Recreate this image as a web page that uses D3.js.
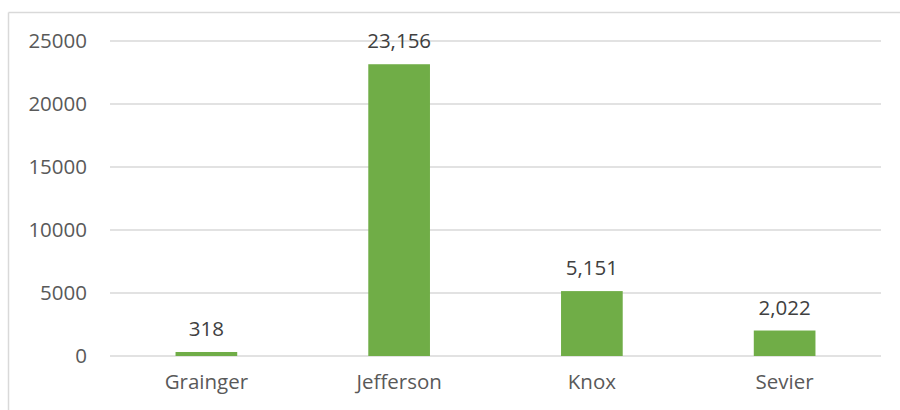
<!DOCTYPE html>
<html><head><meta charset="utf-8">
<script src="https://cdn.jsdelivr.net/npm/d3@7"></script>
<style>html,body{margin:0;padding:0;background:#fff;}svg{display:block;}</style>
</head><body>
<svg id="chart" width="900" height="410"></svg>
<script>
const categories = ["Grainger", "Jefferson", "Knox", "Sevier"];
const values = [318, 23156, 5151, 2022];
const yTicks = [0, 5000, 10000, 15000, 20000, 25000];

const svg = d3.select("#chart");
const W = 900, H = 410;
const plot = {left: 110, right: 881, top: 41, bottom: 356};
const font = "'Open Sans', sans-serif";
const fs = 20.5;

// outer chart border (top & left visible)
svg.append("line").attr("x1", 8.5).attr("x2", W).attr("y1", 12.5).attr("y2", 12.5)
  .attr("stroke", "#d9d9d9").attr("stroke-width", 1.5);
svg.append("line").attr("x1", 8.5).attr("x2", 8.5).attr("y1", 12.5).attr("y2", H)
  .attr("stroke", "#d9d9d9").attr("stroke-width", 1.5);

const x = d3.scaleBand().domain(categories).range([plot.left, plot.right])
  .paddingInner(0.68).paddingOuter(0.34);
const y = d3.scaleLinear().domain([0, 25000]).range([plot.bottom, plot.top]);

// gridlines
svg.append("g").selectAll("line").data(yTicks).join("line")
  .attr("x1", plot.left).attr("x2", plot.right)
  .attr("y1", d => y(d)).attr("y2", d => y(d))
  .attr("stroke", "#d9d9d9").attr("stroke-width", 1.5);

// y axis labels
const yAxis = d3.axisLeft(y).tickValues(yTicks).tickSize(0).tickPadding(0).tickFormat(d3.format("d"));
const gy = svg.append("g").attr("transform", `translate(${87},0)`).call(yAxis);
gy.select(".domain").remove();
gy.selectAll("text").attr("font-family", font).attr("font-size", fs).attr("fill", "#595959");

// x axis labels
const xAxis = d3.axisBottom(x).tickSize(0).tickPadding(0);
const gx = svg.append("g").attr("transform", `translate(0,${plot.bottom + 18})`).call(xAxis);
gx.select(".domain").remove();
gx.selectAll("text").attr("font-family", font).attr("font-size", fs).attr("fill", "#595959");

// bars
svg.append("g").selectAll("rect").data(values).join("rect")
  .attr("x", (d, i) => x(categories[i]))
  .attr("width", x.bandwidth())
  .attr("y", d => y(d))
  .attr("height", d => y(0) - y(d))
  .attr("fill", "#70ad47");

// data labels
svg.append("g").selectAll("text").data(values).join("text")
  .attr("x", (d, i) => x(categories[i]) + x.bandwidth() / 2)
  .attr("y", d => y(d) - 16)
  .attr("text-anchor", "middle")
  .attr("font-family", font).attr("font-size", fs).attr("fill", "#404040")
  .text(d => d3.format(",")(d));
</script>
</body></html>
